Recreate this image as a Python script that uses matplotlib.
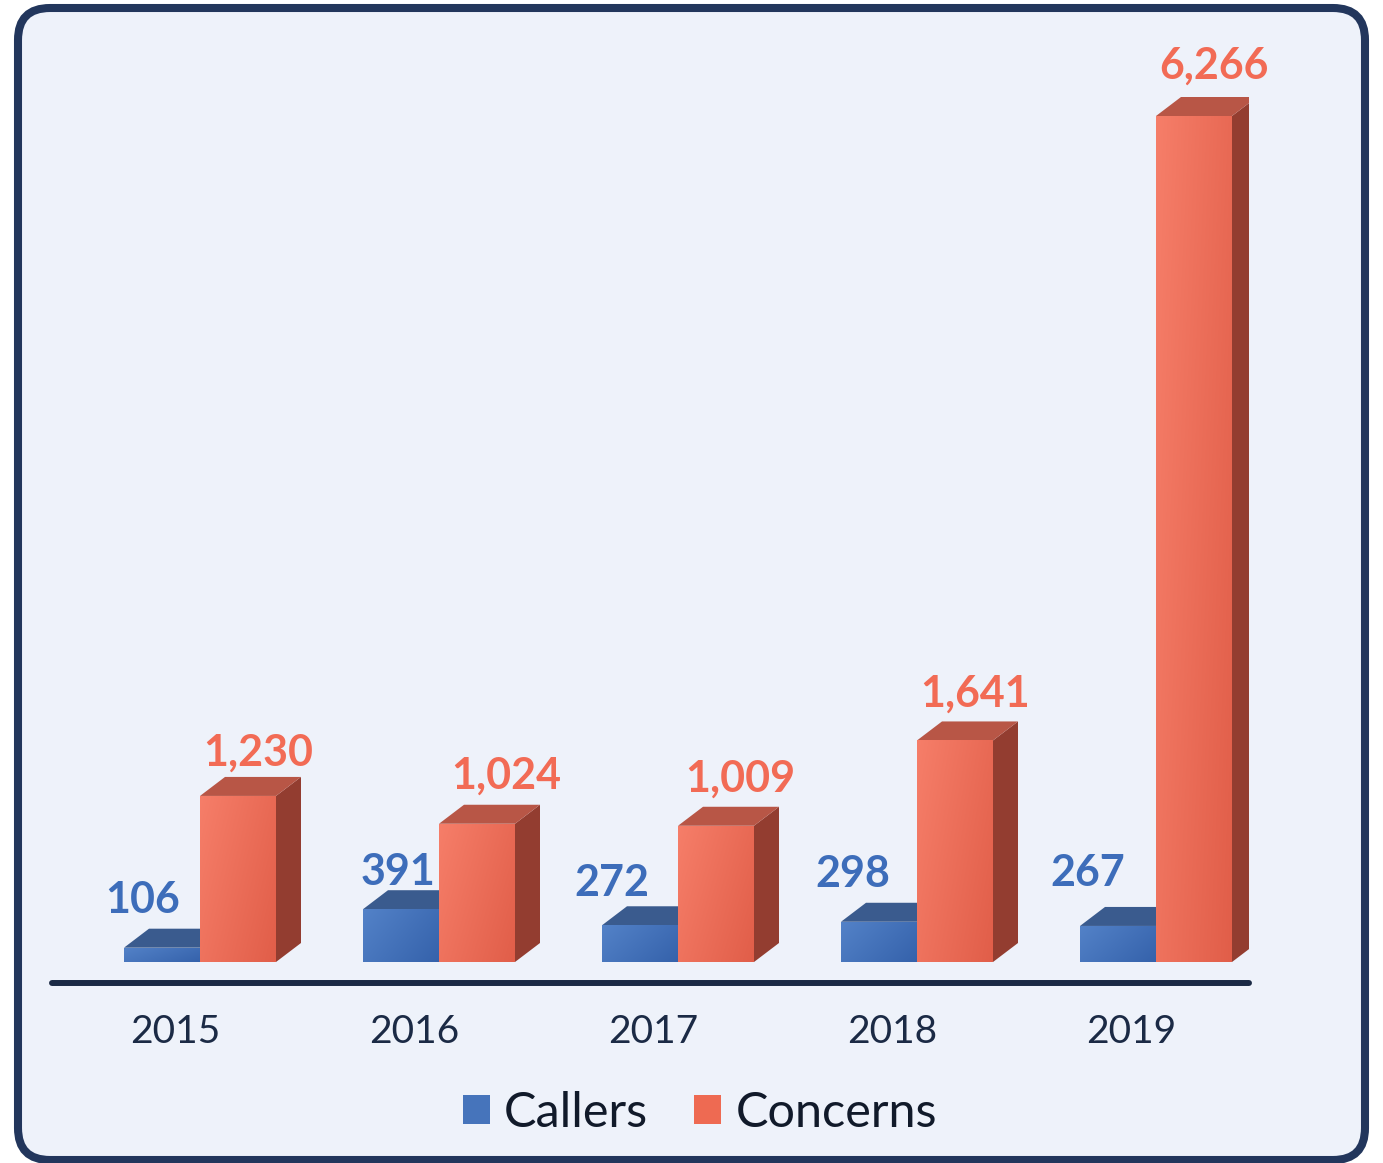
import matplotlib
matplotlib.use('Agg')
import matplotlib.pyplot as plt
import numpy as np
from matplotlib.patches import Polygon, FancyBboxPatch, Patch, Rectangle
from matplotlib.colors import to_rgb
from matplotlib.transforms import IdentityTransform

# ---------------- data ----------------
years = ['2015', '2016', '2017', '2018', '2019']
callers = [106, 391, 272, 298, 267]
concerns = [1230, 1024, 1009, 1641, 6266]
series_names = ['Callers', 'Concerns']

# ---------------- style ----------------
plt.rcParams['font.family'] = ['Lato', 'DejaVu Sans']
W, H, DPI = 1383, 1163, 100
BG = '#EEF2FA'
NAVY = '#22365C'
TXT = '#1B2A45'
BLUE_TXT = '#3D6DBA'
RED_TXT = '#F26B55'

blue_faces = dict(light='#5382C8', dark='#3562AB', top='#3A5B8E', side='#2E4A78')
red_faces = dict(light='#F67E69', dark='#E15E49', top='#B85646', side='#933D30')

# label offsets in pixels (dx, dy) relative to bar front centre / front top
blue_off = [(-19, -48), (-3, -37), (-28, -42), (-26, -48), (-30, -53)]
red_off = [(20, -43), (29, -48), (24, -47), (20, -47), (20, -50)]

fig = plt.figure(figsize=(W / DPI, H / DPI), dpi=DPI, facecolor='white')

# rounded frame (display pixel coordinates)
frame = FancyBboxPatch((18, H - 1160), 1365 - 18, 1160 - 8,
                       boxstyle='round,pad=0,rounding_size=32',
                       transform=IdentityTransform(), facecolor=BG,
                       edgecolor=NAVY, linewidth=5.8, zorder=-5)
fig.patches.append(frame)

# axes placement in pixels
ax_left, ax_right, ax_bottom_px, ax_top_px = 52, 1249, 983, 40
ax = fig.add_axes([ax_left / W, 1 - ax_bottom_px / H,
                   (ax_right - ax_left) / W, (ax_bottom_px - ax_top_px) / H])
ax.set_facecolor('none')
ax.set_zorder(2)

px_per_cat = 239.0
base_px = 962.0
px_per_unit = (base_px - 116.0) / 6266.0
x0_px = 200.0
xlim = ((ax_left - x0_px) / px_per_cat, (ax_right - x0_px) / px_per_cat)
ylim = (-(ax_bottom_px - base_px) / px_per_unit, (base_px - ax_top_px) / px_per_unit)

bw = 76.0 / px_per_cat          # bar width
ddx = 25.0 / px_per_cat         # depth offset x
ddy = 19.0 / px_per_unit        # depth offset y

x = np.arange(len(years))


def gradient_img(c1, c2, n=64):
    a = np.array(to_rgb(c1))
    b = np.array(to_rgb(c2))
    u = np.linspace(0, 1, n)
    uu, vv = np.meshgrid(u, u)
    t = (uu * 0.65 + vv * 0.35)
    return a[None, None, :] * (1 - t[..., None]) + b[None, None, :] * t[..., None]


def draw_bar3d(xl, h, faces, z):
    # side face
    side = Polygon([(xl + bw, 0), (xl + bw + ddx, ddy), (xl + bw + ddx, h + ddy), (xl + bw, h)],
                   closed=True, facecolor=faces['side'], edgecolor='none', zorder=z)
    ax.add_patch(side)
    # top face
    top = Polygon([(xl, h), (xl + bw, h), (xl + bw + ddx, h + ddy), (xl + ddx, h + ddy)],
                  closed=True, facecolor=faces['top'], edgecolor='none', zorder=z)
    ax.add_patch(top)
    # front face
    rects = ax.bar(xl, h, width=bw, align='edge', color=faces['dark'], zorder=z + 0.1,
                   edgecolor='none')
    rect = rects[0]
    img = ax.imshow(gradient_img(faces['light'], faces['dark']), extent=(xl, xl + bw, 0, h),
                    aspect='auto', interpolation='bilinear', zorder=z + 0.2, origin='upper')
    img.set_clip_path(rect)


for i in range(len(years)):
    draw_bar3d(x[i] - bw, callers[i], blue_faces, 2 + i * 2)
    draw_bar3d(x[i], concerns[i], red_faces, 3 + i * 2)

# value labels
for i in range(len(years)):
    ax.annotate(f'{callers[i]:,}', xy=(x[i] - bw / 2, callers[i]),
                xytext=(blue_off[i][0] * 0.72, -blue_off[i][1] * 0.72),
                textcoords='offset points', ha='center', va='center',
                fontsize=31, fontweight='bold', color=BLUE_TXT, zorder=30)
    ax.annotate(f'{concerns[i]:,}', xy=(x[i] + bw / 2, concerns[i]),
                xytext=(red_off[i][0] * 0.72, -red_off[i][1] * 0.72),
                textcoords='offset points', ha='center', va='center',
                fontsize=31, fontweight='bold', color=RED_TXT, zorder=30)

ax.set_xlim(*xlim)
ax.set_ylim(*ylim)

# axes styling
for s in ['top', 'right', 'left']:
    ax.spines[s].set_visible(False)
ax.spines['bottom'].set_color(TXT)
ax.spines['bottom'].set_linewidth(4.3)
ax.spines['bottom'].set_capstyle('round')
ax.set_yticks([])
ax.set_xticks(x - 25.0 / px_per_cat)
ax.set_xticklabels(years, fontsize=28, color=TXT)
ax.tick_params(axis='x', length=0, pad=22.5)

# legend
handles = [Patch(facecolor='#4674BB', edgecolor='none'),
           Patch(facecolor='#EE6A52', edgecolor='none')]
fig.legend(handles, series_names, loc='center', bbox_to_anchor=(700 / W, 1 - 1113 / H),
           ncol=2, frameon=False, fontsize=35, handlelength=0.55, handleheight=0.55,
           handletextpad=0.3, columnspacing=0.95, labelcolor='#111A2A')

fig.savefig('out.png', dpi=DPI, facecolor='white')
